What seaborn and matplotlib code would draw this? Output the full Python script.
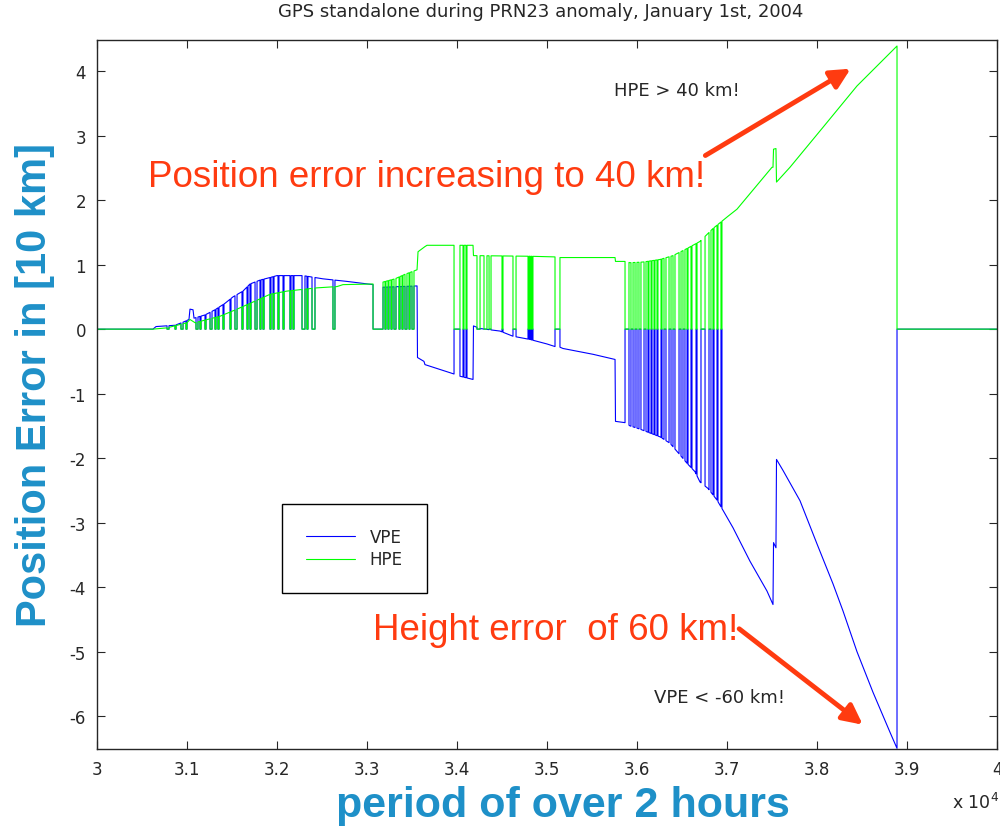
import numpy as np
import pandas as pd
import seaborn as sns
import matplotlib.pyplot as plt
from matplotlib.ticker import FuncFormatter, MultipleLocator

# time of day [s], position errors [10 km]
# nominal (solution available) curves
vpe_t = [30000, 30622, 30656, 30867, 30978, 31022, 31033, 31067, 31078, 31200, 31311,
         31422, 31511, 31622, 31700, 31811, 31922, 32000, 32289, 32511, 32778, 33067,
         33178, 33367, 33556, 33561, 33633, 33644, 33956, 34033, 34178, 34183, 34256,
         34478, 34622, 34811, 35000, 35089, 35144, 35178, 35511, 35756, 35761, 35867,
         35922, 36033, 36144, 36256, 36367, 36478, 36556, 36644, 36700, 36789, 36889,
         36956, 37067, 37256, 37444, 37511, 37517, 37544, 37550, 37622, 37811, 38000,
         38178, 38289, 38444, 38622, 38811, 38889, 38889, 40000]
vpe_v = [0, 0, 0.04, 0.06, 0.12, 0.15, 0.31, 0.30, 0.17, 0.22, 0.30,
         0.40, 0.50, 0.59, 0.70, 0.76, 0.80, 0.83, 0.83, 0.78, 0.74, 0.69,
         0.65, 0.66, 0.67, -0.44, -0.50, -0.55, -0.69, -0.73, -0.78, 0.05, 0.01,
         -0.03, -0.11, -0.16, -0.23, -0.27, -0.28, -0.30, -0.39, -0.47, -1.43, -1.45,
         -1.50, -1.55, -1.61, -1.67, -1.77, -1.95, -2.08, -2.21, -2.37, -2.47, -2.65,
         -2.81, -3.08, -3.60, -4.06, -4.27, -3.31, -3.39, -2.02, -2.19, -2.66, -3.33,
         -3.95, -4.37, -5.00, -5.63, -6.25, -6.50, 0, 0]

hpe_t = [30000, 30622, 30700, 30778, 31000, 31033, 31089, 31367, 31556, 31733, 31922,
         32111, 32444, 32667, 32733, 33067, 33178, 33311, 33422, 33556, 33567, 33644,
         33667, 34178, 34183, 34811, 35089, 35144, 35756, 35761, 35867, 35922, 36067,
         36256, 36400, 36556, 36700, 36844, 37011, 37111, 37500, 37511, 37517, 37544,
         37550, 37700, 38067, 38444, 38889, 38889, 40000]
hpe_v = [0, 0, 0.01, 0.02, 0.10, 0.15, 0.10, 0.20, 0.31, 0.42, 0.54,
         0.59, 0.64, 0.66, 0.69, 0.70, 0.73, 0.78, 0.85, 0.92, 1.20, 1.28,
         1.30, 1.30, 1.14, 1.13, 1.12, 1.11, 1.11, 1.05, 1.05, 1.03, 1.04,
         1.08, 1.14, 1.25, 1.36, 1.56, 1.75, 1.86, 2.51, 2.51, 2.79, 2.80,
         2.28, 2.51, 3.13, 3.77, 4.39, 0, 0]

# outages: both errors drop to zero
gaps = [(30778, 30800), (30867, 30878), (30933, 30956), (30989, 31000), (31100, 31122),
        (31144, 31156), (31200, 31211), (31256, 31278), (31311, 31322), (31344, 31356),
        (31400, 31411), (31478, 31489), (31533, 31556), (31611, 31622), (31667, 31678),
        (31700, 31711), (31756, 31778), (31811, 31822), (31844, 31856), (31922, 31933),
        (31956, 31967), (32011, 32022), (32067, 32078), (32144, 32156), (32178, 32189),
        (32278, 32311), (32333, 32344), (32389, 32422), (32622, 32644), (33067, 33178),
        (33200, 33211), (33233, 33244), (33267, 33278), (33300, 33322), (33356, 33367),
        (33389, 33400), (33422, 33444), (33467, 33478), (33500, 33522),
        (33967, 34033), (34067, 34078), (34100, 34111), (34222, 34256), (34300, 34333),
        (34356, 34378), (34500, 34511), (34622, 34656), (34789, 34800), (34811, 34822),
        (34833, 34844), (35089, 35144),
        (35867, 35911), (35933, 35956), (35978, 36000), (36022, 36044), (36078, 36100),
        (36122, 36133), (36156, 36167), (36189, 36200), (36222, 36233), (36267, 36278),
        (36300, 36322), (36356, 36378), (36400, 36422), (36467, 36489), (36511, 36533),
        (36556, 36567), (36600, 36611), (36656, 36667), (36711, 36756), (36800, 36822),
        (36844, 36856), (36889, 36900), (36933, 36944)]


def with_outages(t, v, gaps):
    t = np.asarray(t, float)
    v = np.asarray(v, float)
    pts = [(a, b) for a, b in zip(t, v) if not any(g0 <= a <= g1 for g0, g1 in gaps)]
    for g0, g1 in gaps:
        pts += [(g0, np.interp(g0, t, v)), (g0, 0.0), (g1, 0.0), (g1, np.interp(g1, t, v))]
    pts.sort(key=lambda p: p[0])
    return pd.DataFrame(pts, columns=['t', 'err'])


vpe = with_outages(vpe_t, vpe_v, gaps)
vpe['series'] = 'VPE'
hpe = with_outages(hpe_t, hpe_v, gaps)
hpe['series'] = 'HPE'
df = pd.concat([vpe, hpe], ignore_index=True)

sns.set_style('ticks')
plt.rcParams['font.family'] = 'DejaVu Sans'
plt.rcParams['axes.unicode_minus'] = False

fig = plt.figure(figsize=(10, 8.29), dpi=100)
ax = fig.add_axes([0.097, 0.0953, 0.9, 0.855])

sns.lineplot(data=df, x='t', y='err', hue='series', sort=False, estimator=None,
             palette={'VPE': '#0000ff', 'HPE': '#00ff00'}, linewidth=0.8, ax=ax)

ax.set_xlim(30000, 40000)
ax.set_ylim(-6.51, 4.48)
ax.xaxis.set_major_locator(MultipleLocator(1000))
ax.xaxis.set_major_formatter(FuncFormatter(lambda x, p: f'{x / 1e4:g}'))
ax.yaxis.set_major_locator(MultipleLocator(1))
ax.tick_params(direction='in', top=True, right=True, labelsize=12, length=6, width=0.8, pad=8)
for s in ax.spines.values():
    s.set_linewidth(1.0)
    s.set_visible(True)
ax.set_xlabel('')
ax.set_ylabel('')

h, l = ax.get_legend_handles_labels()
ax.legend(h, l, loc='upper left', bbox_to_anchor=(0.2056, 0.3456), borderaxespad=0,
          fontsize=12, handlelength=2.9, handletextpad=0.9, borderpad=1.45,
          labelspacing=0.25, fancybox=False, edgecolor='black', framealpha=1)

red = '#ff3b10'
ax.text(35744, 3.71, 'HPE > 40 km!', fontsize=13, va='center')
ax.text(36189, -5.71, 'VPE < -60 km!', fontsize=13, va='center')
ax.text(30567, 2.37, 'Position error increasing to 40 km!', fontsize=26.5,
        color=red, va='center', family='Liberation Sans')
ax.text(33067, -4.65, 'Height error  of 60 km!', fontsize=26.5,
        color=red, va='center', family='Liberation Sans')
ax.annotate('', xy=(38400, 4.06), xytext=(36733, 2.67),
            arrowprops=dict(arrowstyle='-|>,head_length=1.2,head_width=0.6', color=red, lw=3.5))
ax.annotate('', xy=(38533, -6.16), xytext=(37111, -4.62),
            arrowprops=dict(arrowstyle='-|>,head_length=1.2,head_width=0.6', color=red, lw=3.5))

blue = '#1e90c8'
fig.text(0.541, 0.985, 'GPS standalone during PRN23 anomaly, January 1st, 2004',
         ha='center', va='center', fontsize=13)
fig.text(0.563, 0.028, 'period of over 2 hours', ha='center', va='center',
         fontsize=31, fontweight='bold', color=blue, family='Liberation Sans')
fig.text(0.035, 0.536, 'Position Error in [10 km]', ha='center', va='center', rotation=90,
         fontsize=30, fontweight='bold', color=blue, family='Liberation Sans')
fig.text(0.952, 0.031, r'x 10$^4$', fontsize=12.5, va='center')

fig.savefig('out.png', dpi=100)
